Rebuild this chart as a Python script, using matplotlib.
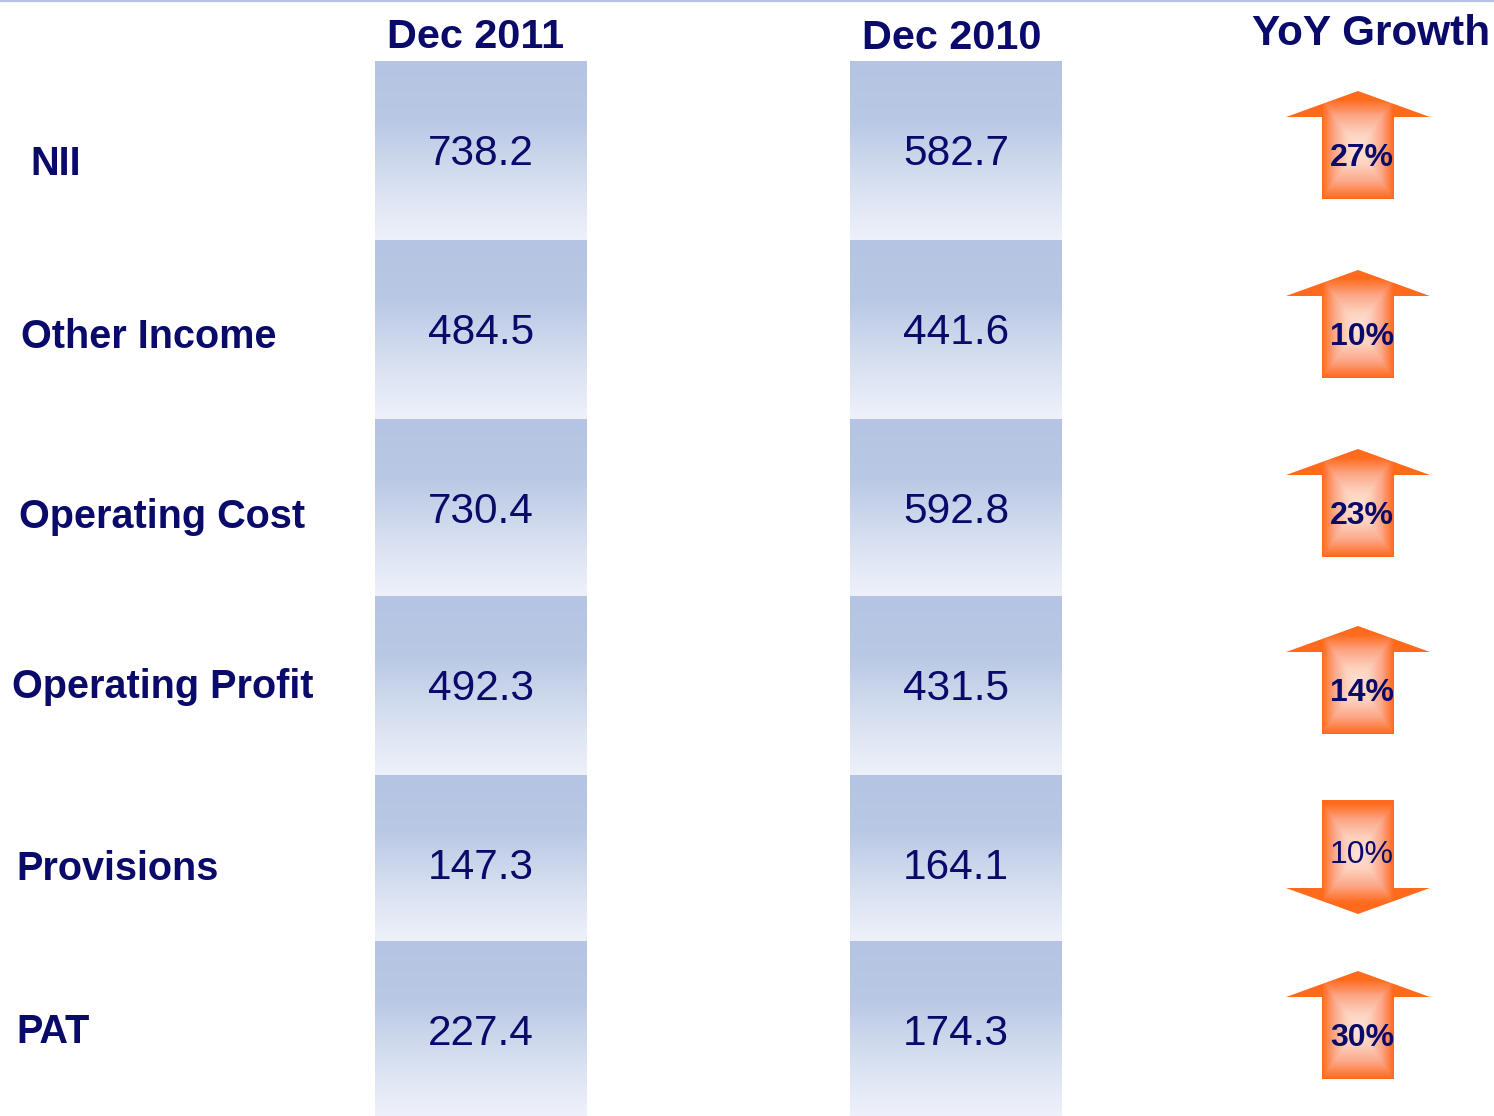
import matplotlib
matplotlib.use("Agg")
import matplotlib.pyplot as plt
import numpy as np
from matplotlib import colors
from matplotlib.patches import Polygon

plt.rcParams["font.family"] = ["Liberation Sans", "DejaVu Sans"]

# data
rows = ["NII", "Other Income", "Operating Cost", "Operating Profit", "Provisions", "PAT"]
dec_2011 = [738.2, 484.5, 730.4, 492.3, 147.3, 227.4]
dec_2010 = [582.7, 441.6, 592.8, 431.5, 164.1, 174.3]
yoy_growth = [27, 10, 23, 14, -10, 30]
col_titles = ["Dec 2011", "Dec 2010", "YoY Growth"]

# layout (pixels, origin top-left)
W, H = 1494, 1116
NAVY = "#0a0a6b"
row_edges = [61, 240, 419, 596, 775, 941, 1116]
label_x = [30, 21, 19, 12, 16, 16]
label_base = [175, 348, 528, 698, 880, 1043]
col_x = [(375, 587), (850, 1062)]
arrow_cx = 1358

box_cmap = colors.LinearSegmentedColormap.from_list(
    "box", ["#b4c4e2", "#b9c8e4", "#d6dff0", "#eef1f9"])
arrow_cmap = colors.LinearSegmentedColormap.from_list(
    "arrow", ["#fee4d8", "#fdd0bc", "#fca687", "#ff6a1c"])

fig = plt.figure(figsize=(W / 100, H / 100), dpi=100)
ax = fig.add_axes([0, 0, 1, 1])
ax.set_xlim(0, W)
ax.set_ylim(H, 0)
ax.axis("off")

# thin line across the top
ax.plot([0, W], [0.8, 0.8], color="#b4c4e2", lw=1.6)

# column headers
ax.text(476, 48, col_titles[0], ha="center", va="baseline", fontsize=29.8,
        fontweight="bold", color=NAVY)
ax.text(952, 49, col_titles[1], ha="center", va="baseline", fontsize=29.8,
        fontweight="bold", color=NAVY)
ax.text(1371, 45, col_titles[2], ha="center", va="baseline", fontsize=30.4,
        fontweight="bold", color=NAVY)

grad = np.linspace(0, 1, 200).reshape(-1, 1)


def draw_arrow(cx, cy, up, half_len=54):
    hw_head, hw_shaft, head_h = 72, 36, 26
    s = 1 if up else -1
    tip = cy - s * half_len
    base = tip + s * head_h
    end = cy + s * half_len
    pts = [(cx, tip), (cx + hw_head, base), (cx + hw_shaft, base),
           (cx + hw_shaft, end), (cx - hw_shaft, end), (cx - hw_shaft, base),
           (cx - hw_head, base)]
    poly = Polygon(pts, closed=True, facecolor="none", edgecolor="none")
    ax.add_patch(poly)
    x0, x1 = cx - hw_head, cx + hw_head
    y0, y1 = cy - half_len, cy + half_len
    X, Y = np.meshgrid(np.linspace(x0, x1, 150), np.linspace(y0, y1, 120))
    light_y = cy + s * 4
    t = np.maximum(np.abs(X - cx) / hw_shaft, np.abs(Y - light_y) / 50)
    t = np.clip(t, 0, 1)
    im = ax.imshow(t, extent=(x0, x1, y1, y0), cmap=arrow_cmap, vmin=0, vmax=1,
                   aspect="auto", interpolation="bilinear", zorder=2)
    im.set_clip_path(poly)


for i, name in enumerate(rows):
    top, bot = row_edges[i], row_edges[i + 1]
    for (x0, x1), vals in zip(col_x, [dec_2011, dec_2010]):
        ax.imshow(grad, extent=(x0, x1, bot, top), cmap=box_cmap, aspect="auto",
                  interpolation="bilinear", zorder=1)
        ax.text((x0 + x1) / 2, top + 104, f"{vals[i]:.1f}", ha="center",
                va="baseline", fontsize=30.5, color=NAVY, zorder=3)
    ax.text(label_x[i], label_base[i], name, ha="left", va="baseline",
            fontsize=28.5, fontweight="bold", color=NAVY)

    g = yoy_growth[i]
    if g >= 0:
        acy = top + 84
        draw_arrow(arrow_cx, acy, True)
        ty = top + 105
    else:
        acy = top + 82
        draw_arrow(arrow_cx, acy, False, half_len=57)
        ty = acy + 6
    ax.text(arrow_cx + 4, ty, f"{abs(g)}%", ha="center", va="baseline",
            fontsize=23, fontweight="bold" if g >= 0 else "normal",
            color=NAVY, zorder=4)

ax.set_xlim(0, W)
ax.set_ylim(H, 0)
fig.savefig("out.png", dpi=100)
